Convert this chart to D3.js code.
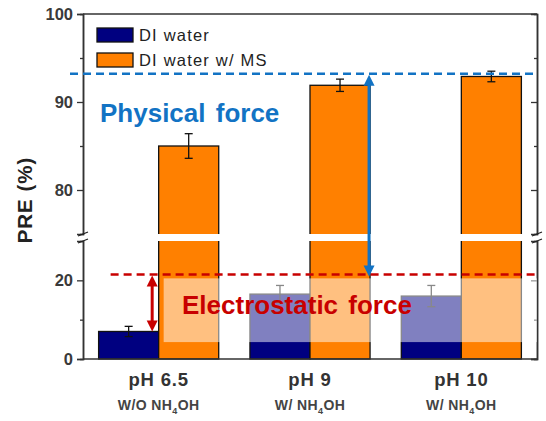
<!DOCTYPE html>
<html>
<head>
<meta charset="utf-8">
<script src="https://cdn.jsdelivr.net/npm/d3@7"></script>
<style>
  body { margin: 0; background: #fff; }
  text { font-family: "Liberation Sans", Arial, sans-serif; }
</style>
</head>
<body>
<svg id="chart"></svg>
<script>
// groups along x
const groups = ["pH 6.5", "pH 9", "pH 10"];
const subLabels = ["W/O NH", "W/ NH", "W/ NH"];
const series = ["DI water", "DI water w/ MS"];
const seriesColors = ["#000080", "#ff8000"];

// PRE values (%) and error bars
const diWater = [7, 16.5, 16];
const diWaterErr = [1.3, 2.2, 2.7];
const diWaterMS = [85, 91.9, 92.9];
const diWaterMSErr = [1.4, 0.7, 0.6];

// broken y axis: upper part and lower part
const upperDomain = [75, 100];
const lowerDomain = [0, 30];
const upperTicks = [80, 90, 100];
const upperMinor = [85, 95];
const lowerTicks = [0, 20];
const lowerMinor = [10];

// annotation levels
const physicalLevel = 93.2;
const electroLevel = 21.5;
const fadeBand = [4.3, 20.5];

const width = 546, height = 421;
const plotL = 83, plotR = 537, plotT = 14, plotB = 359;
const breakTop = 234, breakBottom = 241;

const svg = d3.select("#chart").attr("width", width).attr("height", height);

const x = d3.scaleBand().domain(groups).range([plotL, plotR]);
const xSub = d3.scaleBand().domain(series).range([0, x.bandwidth()]).paddingOuter(0.26);
const yU = d3.scaleLinear().domain(upperDomain).range([breakTop, plotT]);
const yL = d3.scaleLinear().domain(lowerDomain).range([plotB, breakBottom]);

const rows = groups.map((g, i) => ({
  group: g,
  vals: [
    {s: series[0], v: diWater[i], e: diWaterErr[i]},
    {s: series[1], v: diWaterMS[i], e: diWaterMSErr[i]}
  ]
}));

// value -> pixel across both segments
const yAny = v => v >= upperDomain[0] ? yU(v) : yL(v);

const plot = svg.append("g");
const gBars = plot.selectAll("g.grp").data(rows).enter().append("g")
  .attr("class", "grp")
  .attr("transform", d => `translate(${x(d.group)},0)`);

gBars.selectAll("rect").data(d => d.vals).enter().append("rect")
  .attr("x", d => xSub(d.s))
  .attr("y", d => yAny(d.v))
  .attr("width", xSub.bandwidth())
  .attr("height", d => plotB - yAny(d.v))
  .attr("fill", (d, i) => seriesColors[i])
  .attr("stroke", "#111")
  .attr("stroke-width", 1.3);

// error bars
const err = gBars.selectAll("g.err").data(d => d.vals).enter().append("g").attr("class", "err");
err.append("line")
  .attr("x1", d => xSub(d.s) + xSub.bandwidth() / 2)
  .attr("x2", d => xSub(d.s) + xSub.bandwidth() / 2)
  .attr("y1", d => yAny(d.v + d.e))
  .attr("y2", d => yAny(d.v - d.e));
err.selectAll("line.cap").data(d => [d.v + d.e, d.v - d.e].map(t => ({s: d.s, t}))).enter()
  .append("line").attr("class", "cap")
  .attr("x1", d => xSub(d.s) + xSub.bandwidth() / 2 - 4)
  .attr("x2", d => xSub(d.s) + xSub.bandwidth() / 2 + 4)
  .attr("y1", d => yAny(d.t))
  .attr("y2", d => yAny(d.t));
err.selectAll("line").attr("stroke", "#111").attr("stroke-width", 1.3);

// white gap for the axis break
svg.append("rect").attr("x", plotL - 1).attr("y", breakTop)
  .attr("width", plotR - plotL + 2).attr("height", breakBottom - breakTop)
  .attr("fill", "#fff");

// frame + axes
const axisColor = "#333";
svg.append("line").attr("x1", plotL).attr("x2", plotR).attr("y1", plotT).attr("y2", plotT)
  .attr("stroke", axisColor).attr("stroke-width", 1.3);
svg.append("line").attr("x1", plotL).attr("x2", plotR).attr("y1", plotB).attr("y2", plotB)
  .attr("stroke", axisColor).attr("stroke-width", 1.5);

svg.append("g").attr("transform", `translate(${plotL},0)`)
  .call(d3.axisLeft(yU).tickValues(upperTicks).tickSize(6).tickPadding(4).tickFormat(d3.format("d")));
svg.append("g").attr("transform", `translate(${plotL},0)`)
  .call(d3.axisLeft(yU).tickValues(upperMinor).tickSize(3).tickFormat(""));
svg.append("g").attr("transform", `translate(${plotL},0)`)
  .call(d3.axisLeft(yL).tickValues(lowerTicks).tickSize(6).tickPadding(4).tickFormat(d3.format("d")));
svg.append("g").attr("transform", `translate(${plotL},0)`)
  .call(d3.axisLeft(yL).tickValues(lowerMinor).tickSize(3).tickFormat(""));
svg.append("g").attr("transform", `translate(${plotR},0)`)
  .call(d3.axisRight(yU).tickValues(upperTicks.slice(0, 2)).tickSize(-6).tickFormat(""));
svg.append("g").attr("transform", `translate(${plotR},0)`)
  .call(d3.axisRight(yU).tickValues(upperMinor).tickSize(-3).tickFormat(""));
svg.append("g").attr("transform", `translate(${plotR},0)`)
  .call(d3.axisRight(yL).tickValues(lowerTicks).tickSize(-6).tickFormat(""));
svg.append("g").attr("transform", `translate(${plotR},0)`)
  .call(d3.axisRight(yL).tickValues(lowerMinor).tickSize(-3).tickFormat(""));

svg.selectAll(".domain").attr("stroke", axisColor).attr("stroke-width", 1.5);
svg.selectAll(".tick line").attr("stroke", axisColor).attr("stroke-width", 1.3);
svg.selectAll(".tick text").attr("font-size", 16.5).attr("font-weight", "bold")
  .attr("fill", "#3a3a3a").attr("font-family", "Liberation Sans, Arial, sans-serif");

// break marks on both axes
[plotL, plotR].forEach(ax => {
  [breakTop, breakBottom].forEach(by => {
    svg.append("line")
      .attr("x1", ax - 5).attr("y1", by + 2).attr("x2", ax + 5).attr("y2", by - 2)
      .attr("stroke", "#222").attr("stroke-width", 1.2);
  });
});

// legend
const legend = svg.append("g").selectAll("g").data(series).enter().append("g")
  .attr("transform", (d, i) => `translate(97,${28 + i * 25})`);
legend.append("rect").attr("width", 36).attr("height", 14)
  .attr("fill", (d, i) => seriesColors[i]).attr("stroke", "#111").attr("stroke-width", 1.3);
legend.append("text").attr("x", 42).attr("y", 13)
  .attr("font-size", 16.5).attr("letter-spacing", 1.2).attr("fill", "#222")
  .text(d => d);

// faded band over the electrostatic region
const fadeX = x(groups[0]) + xSub(series[1]) + 5;
svg.append("rect")
  .attr("x", fadeX)
  .attr("y", yL(fadeBand[1]))
  .attr("width", plotR - fadeX)
  .attr("height", yL(fadeBand[0]) - yL(fadeBand[1]))
  .attr("fill", "#fff").attr("opacity", 0.5);

// dashed reference lines
const blue = "#1273c4", red = "#c80000";
svg.append("line").attr("x1", plotL - 13).attr("x2", plotR)
  .attr("y1", yU(physicalLevel)).attr("y2", yU(physicalLevel))
  .attr("stroke", blue).attr("stroke-width", 2.5).attr("stroke-dasharray", "8,5");
svg.append("line").attr("x1", x(groups[0]) + xSub(series[0]) + 12).attr("x2", plotR)
  .attr("y1", yL(electroLevel)).attr("y2", yL(electroLevel))
  .attr("stroke", red).attr("stroke-width", 2.5).attr("stroke-dasharray", "8,5");

// double-headed arrows
function arrow(ax, y1, y2, color) {
  const h = 11, w = 5.5;
  svg.append("line").attr("x1", ax).attr("x2", ax).attr("y1", y1 + h - 1).attr("y2", y2 - h + 1)
    .attr("stroke", color).attr("stroke-width", 3);
  svg.append("path").attr("d", `M${ax},${y1} L${ax - w},${y1 + h} L${ax + w},${y1 + h} Z`).attr("fill", color);
  svg.append("path").attr("d", `M${ax},${y2} L${ax - w},${y2 - h} L${ax + w},${y2 - h} Z`).attr("fill", color);
}
arrow(x(groups[1]) + xSub(series[1]) + xSub.bandwidth() - 1, yU(physicalLevel) + 1, yL(electroLevel) + 2, blue);
arrow(x(groups[0]) + xSub(series[0]) + xSub.bandwidth() - 6.5, yL(electroLevel) + 1, yL(diWater[0]), red);

// force labels
svg.append("text").attr("x", 100).attr("y", 122)
  .attr("font-family", "Noto Sans, sans-serif").attr("font-weight", "bold").attr("font-size", 26)
  .attr("word-spacing", 3).attr("fill", blue).text("Physical force");
svg.append("text").attr("x", 182).attr("y", 314)
  .attr("font-family", "Noto Sans, sans-serif").attr("font-weight", "bold").attr("font-size", 26)
  .attr("word-spacing", 3).attr("fill", red).text("Electrostatic force");

// x labels
const xl = svg.append("g").selectAll("g").data(groups).enter().append("g")
  .attr("transform", d => `translate(${x(d) + x.bandwidth() / 2},0)`);
xl.append("text").attr("y", 386).attr("text-anchor", "middle")
  .attr("font-size", 18.5).attr("font-weight", "bold").attr("letter-spacing", 0.8).attr("fill", "#333")
  .text(d => d);
const sub = xl.append("text").attr("y", 410).attr("text-anchor", "middle")
  .attr("font-size", 14).attr("font-weight", "bold").attr("letter-spacing", 0.4).attr("fill", "#444");
sub.append("tspan").text((d, i) => subLabels[i]);
sub.append("tspan").attr("font-size", 9).attr("dy", 4).text("4");
sub.append("tspan").attr("dy", -4).text("OH");

// y title
svg.append("text")
  .attr("transform", "translate(32,200) rotate(-90)")
  .attr("text-anchor", "middle").attr("font-size", 20.5).attr("font-weight", "bold")
  .attr("letter-spacing", 1).attr("fill", "#222")
  .text("PRE (%)");
</script>
</body>
</html>
